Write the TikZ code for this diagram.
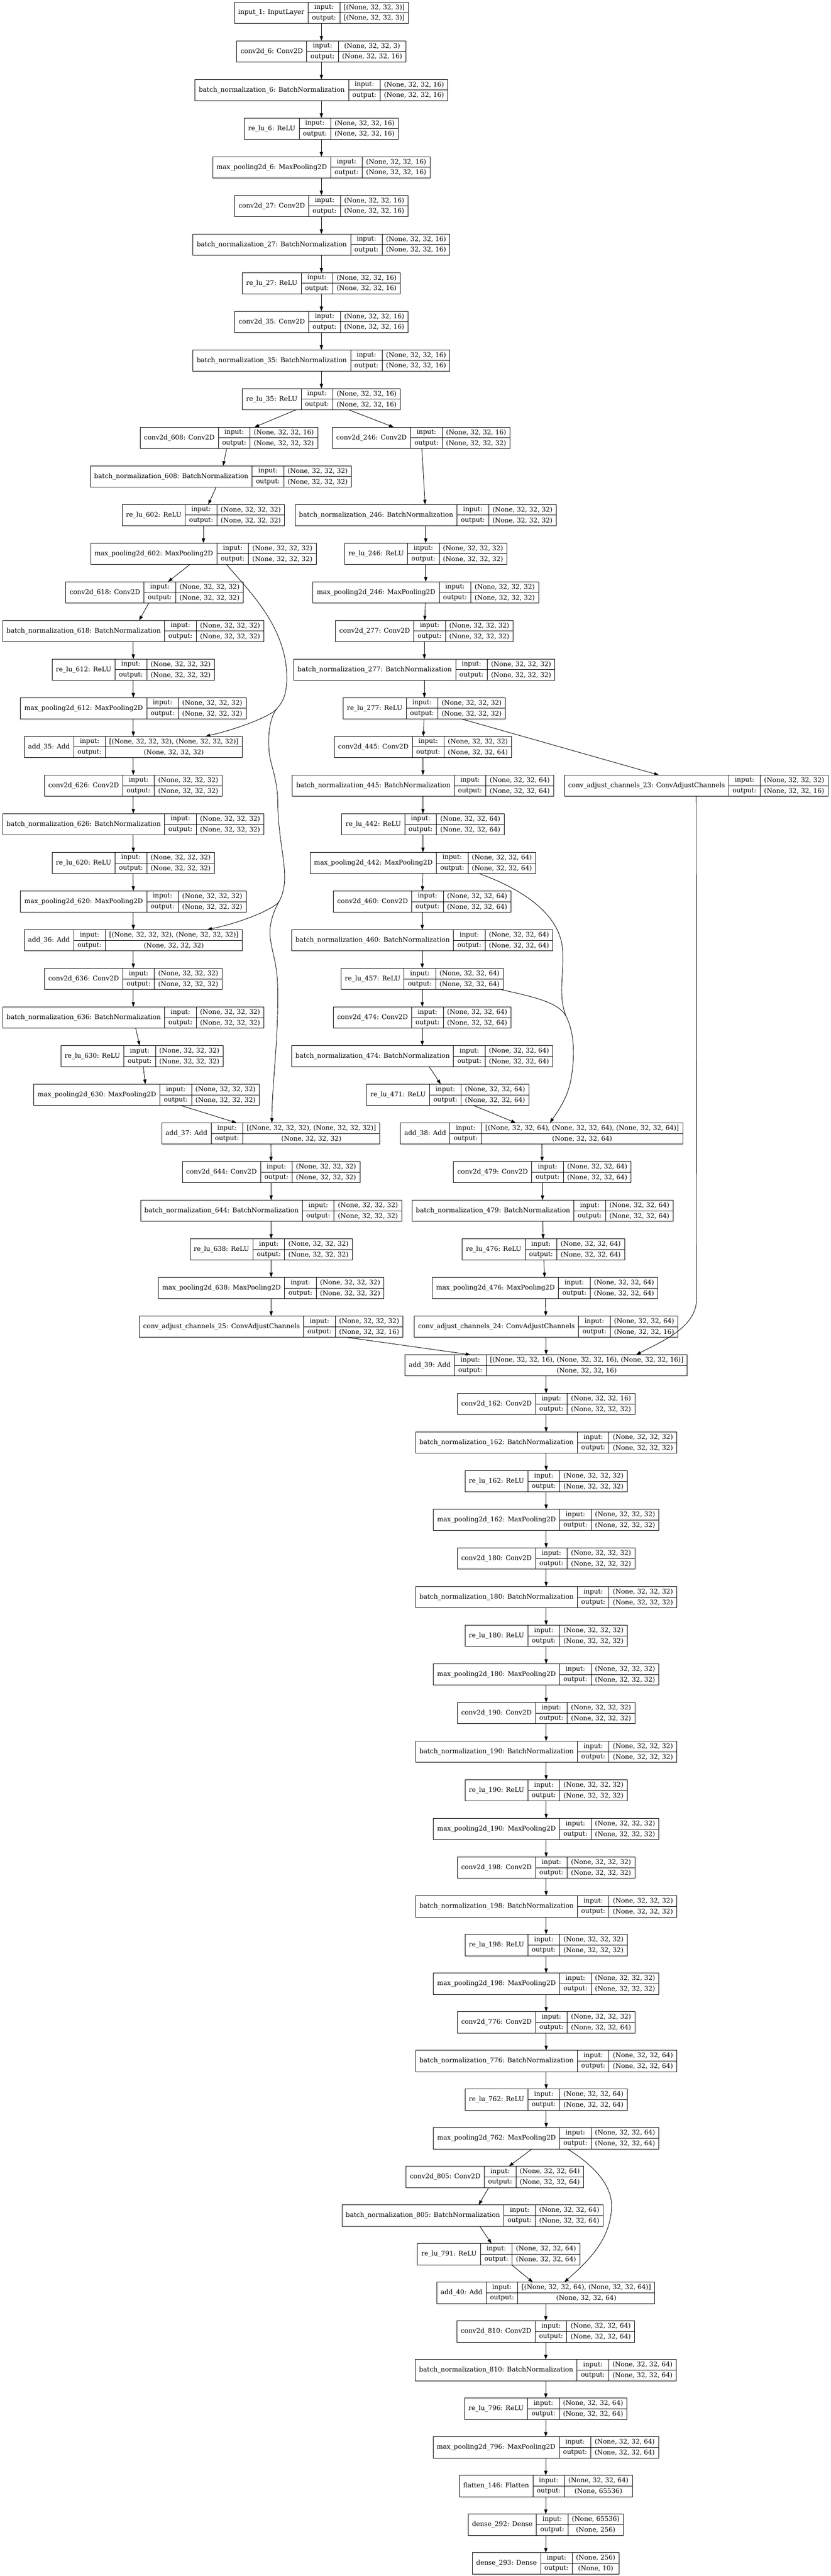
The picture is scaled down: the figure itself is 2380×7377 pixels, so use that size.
\documentclass[tikz,border=0pt]{standalone}
\usepackage{fontspec}
\newfontfamily\djv{DejaVu Serif}
\usetikzlibrary{arrows.meta,calc}
\newcommand\lf{\djv\fontsize{14pt}{17pt}\selectfont}
\newcommand\shp[1]{(None, 32, 32, #1)}
\newlength\lwA \newlength\lwB \newlength\lwC \newlength\lwT
\tikzset{
  lbox/.style={draw,rectangle,line width=1pt,inner sep=0pt,outer sep=0pt,minimum height=45.75pt},
  lsep/.style={line width=1pt},
  ltxt/.style={inner sep=0pt,font=\lf,anchor=center},
  edge/.style={draw,line width=1pt,-{Triangle[length=10pt,width=7pt]}},
  eline/.style={draw,line width=1pt}
}
% pass 1: measure (outside the picture)
\newcommand\laymeasure[6]{%
  \settowidth\lwA{\lf #4}%
  \settowidth\lwC{\lf #5}\settowidth\lwT{\lf #6}%
  \ifdim\lwT>\lwC\relax\setlength\lwC{\lwT}\fi
  \expandafter\xdef\csname lwa@#1\endcsname{\the\lwA}%
  \expandafter\xdef\csname lwc@#1\endcsname{\the\lwC}%
}
% pass 2: draw
\newcommand\laydraw[6]{%
  \setlength\lwA{\csname lwa@#1\endcsname}\addtolength\lwA{16.5pt}%
  \setlength\lwB{\lwbout}\addtolength\lwB{16.5pt}%
  \setlength\lwC{\csname lwc@#1\endcsname}\addtolength\lwC{16.5pt}%
  \setlength\lwT{\lwA}\addtolength\lwT{\lwB}\addtolength\lwT{\lwC}%
  \pgfmathsetmacro\layy{6+110.67*#3+30.5}%
  \node[lbox,minimum width=\lwT] (#1) at (#2,\layy) {};
  \draw[lsep] ([xshift=\lwA]#1.north west) -- ([xshift=\lwA]#1.south west);
  \draw[lsep] ([xshift=-\lwC]#1.north east) -- ([xshift=-\lwC]#1.south east);
  \draw[lsep] ([xshift=\lwA]#1.west) -- (#1.east);
  \node[ltxt] at ([xshift=0.5\lwA]#1.west) {#4};
  \node[ltxt] at ([xshift=\lwA+0.5\lwB,yshift=11.44pt]#1.west) {input:};
  \node[ltxt] at ([xshift=\lwA+0.5\lwB,yshift=-11.44pt]#1.west) {output:};
  \node[ltxt] at ([xshift=-0.5\lwC,yshift=11.44pt]#1.east) {#5};
  \node[ltxt] at ([xshift=-0.5\lwC,yshift=-11.44pt]#1.east) {#6};
}
\newcommand\alllayers{%
% ---- top chain
\lay{inp}{921}{0}{input\_1: InputLayer}{[(None, 32, 32, 3)]}{[(None, 32, 32, 3)]}
\lay{cv6}{921}{1}{conv2d\_6: Conv2D}{\shp{3}}{\shp{16}}
\lay{bn6}{921}{2}{batch\_normalization\_6: BatchNormalization}{\shp{16}}{\shp{16}}
\lay{rl6}{921}{3}{re\_lu\_6: ReLU}{\shp{16}}{\shp{16}}
\lay{mp6}{921}{4}{max\_pooling2d\_6: MaxPooling2D}{\shp{16}}{\shp{16}}
\lay{cv27}{921}{5}{conv2d\_27: Conv2D}{\shp{16}}{\shp{16}}
\lay{bn27}{921}{6}{batch\_normalization\_27: BatchNormalization}{\shp{16}}{\shp{16}}
\lay{rl27}{921}{7}{re\_lu\_27: ReLU}{\shp{16}}{\shp{16}}
\lay{cv35}{921}{8}{conv2d\_35: Conv2D}{\shp{16}}{\shp{16}}
\lay{bn35}{921}{9}{batch\_normalization\_35: BatchNormalization}{\shp{16}}{\shp{16}}
\lay{rl35}{921}{10}{re\_lu\_35: ReLU}{\shp{16}}{\shp{16}}
% ---- left branch
\lay{cv608}{656}{11}{conv2d\_608: Conv2D}{\shp{16}}{\shp{32}}
\lay{bn608}{633}{12}{batch\_normalization\_608: BatchNormalization}{\shp{32}}{\shp{32}}
\lay{rl602}{583}{13}{re\_lu\_602: ReLU}{\shp{32}}{\shp{32}}
\lay{mp602}{583}{14}{max\_pooling2d\_602: MaxPooling2D}{\shp{32}}{\shp{32}}
\lay{cv618}{443}{15}{conv2d\_618: Conv2D}{\shp{32}}{\shp{32}}
\lay{bn618}{382}{16}{batch\_normalization\_618: BatchNormalization}{\shp{32}}{\shp{32}}
\lay{rl612}{382}{17}{re\_lu\_612: ReLU}{\shp{32}}{\shp{32}}
\lay{mp612}{382}{18}{max\_pooling2d\_612: MaxPooling2D}{\shp{32}}{\shp{32}}
\lay{add35}{382}{19}{add\_35: Add}{[(None, 32, 32, 32), (None, 32, 32, 32)]}{\shp{32}}
\lay{cv626}{382}{20}{conv2d\_626: Conv2D}{\shp{32}}{\shp{32}}
\lay{bn626}{382}{21}{batch\_normalization\_626: BatchNormalization}{\shp{32}}{\shp{32}}
\lay{rl620}{382}{22}{re\_lu\_620: ReLU}{\shp{32}}{\shp{32}}
\lay{mp620}{382}{23}{max\_pooling2d\_620: MaxPooling2D}{\shp{32}}{\shp{32}}
\lay{add36}{382}{24}{add\_36: Add}{[(None, 32, 32, 32), (None, 32, 32, 32)]}{\shp{32}}
\lay{cv636}{382}{25}{conv2d\_636: Conv2D}{\shp{32}}{\shp{32}}
\lay{bn636}{382}{26}{batch\_normalization\_636: BatchNormalization}{\shp{32}}{\shp{32}}
\lay{rl630}{407}{27}{re\_lu\_630: ReLU}{\shp{32}}{\shp{32}}
\lay{mp630}{420}{28}{max\_pooling2d\_630: MaxPooling2D}{\shp{32}}{\shp{32}}
\lay{add37}{776}{29}{add\_37: Add}{[(None, 32, 32, 32), (None, 32, 32, 32)]}{\shp{32}}
\lay{cv644}{777}{30}{conv2d\_644: Conv2D}{\shp{32}}{\shp{32}}
\lay{bn644}{777}{31}{batch\_normalization\_644: BatchNormalization}{\shp{32}}{\shp{32}}
\lay{rl638}{777}{32}{re\_lu\_638: ReLU}{\shp{32}}{\shp{32}}
\lay{mp638}{777}{33}{max\_pooling2d\_638: MaxPooling2D}{\shp{32}}{\shp{32}}
\lay{cac25}{777}{34}{conv\_adjust\_channels\_25: ConvAdjustChannels}{\shp{32}}{\shp{16}}
% ---- right branch
\lay{cv246}{1207}{11}{conv2d\_246: Conv2D}{\shp{16}}{\shp{32}}
\lay{bn246}{1220}{13}{batch\_normalization\_246: BatchNormalization}{\shp{32}}{\shp{32}}
\lay{rl246}{1220}{14}{re\_lu\_246: ReLU}{\shp{32}}{\shp{32}}
\lay{mp246}{1220}{15}{max\_pooling2d\_246: MaxPooling2D}{\shp{32}}{\shp{32}}
\lay{cv277}{1216}{16}{conv2d\_277: Conv2D}{\shp{32}}{\shp{32}}
\lay{bn277}{1216}{17}{batch\_normalization\_277: BatchNormalization}{\shp{32}}{\shp{32}}
\lay{rl277}{1216}{18}{re\_lu\_277: ReLU}{\shp{32}}{\shp{32}}
\lay{cv445}{1212}{19}{conv2d\_445: Conv2D}{\shp{32}}{\shp{64}}
\lay{bn445}{1212}{20}{batch\_normalization\_445: BatchNormalization}{\shp{64}}{\shp{64}}
\lay{cac23}{1995}{20}{conv\_adjust\_channels\_23: ConvAdjustChannels}{\shp{32}}{\shp{16}}
\lay{rl442}{1212}{21}{re\_lu\_442: ReLU}{\shp{64}}{\shp{64}}
\lay{mp442}{1212}{22}{max\_pooling2d\_442: MaxPooling2D}{\shp{64}}{\shp{64}}
\lay{cv460}{1210}{23}{conv2d\_460: Conv2D}{\shp{64}}{\shp{64}}
\lay{bn460}{1210}{24}{batch\_normalization\_460: BatchNormalization}{\shp{64}}{\shp{64}}
\lay{rl457}{1210}{25}{re\_lu\_457: ReLU}{\shp{64}}{\shp{64}}
\lay{cv474}{1210}{26}{conv2d\_474: Conv2D}{\shp{64}}{\shp{64}}
\lay{bn474}{1210}{27}{batch\_normalization\_474: BatchNormalization}{\shp{64}}{\shp{64}}
\lay{rl471}{1283}{28}{re\_lu\_471: ReLU}{\shp{64}}{\shp{64}}
\lay{add38}{1552}{29}{add\_38: Add}{[(None, 32, 32, 64), (None, 32, 32, 64), (None, 32, 32, 64)]}{\shp{64}}
\lay{cv479}{1554}{30}{conv2d\_479: Conv2D}{\shp{64}}{\shp{64}}
\lay{bn479}{1555}{31}{batch\_normalization\_479: BatchNormalization}{\shp{64}}{\shp{64}}
\lay{rl476}{1557}{32}{re\_lu\_476: ReLU}{\shp{64}}{\shp{64}}
\lay{mp476}{1562}{33}{max\_pooling2d\_476: MaxPooling2D}{\shp{64}}{\shp{64}}
\lay{cac24}{1565}{34}{conv\_adjust\_channels\_24: ConvAdjustChannels}{\shp{64}}{\shp{16}}
% ---- lower chain
\lay{add39}{1565}{35}{add\_39: Add}{[(None, 32, 32, 16), (None, 32, 32, 16), (None, 32, 32, 16)]}{\shp{16}}
\lay{cv162}{1565}{36}{conv2d\_162: Conv2D}{\shp{16}}{\shp{32}}
\lay{bn162}{1565}{37}{batch\_normalization\_162: BatchNormalization}{\shp{32}}{\shp{32}}
\lay{rl162}{1565}{38}{re\_lu\_162: ReLU}{\shp{32}}{\shp{32}}
\lay{mp162}{1565}{39}{max\_pooling2d\_162: MaxPooling2D}{\shp{32}}{\shp{32}}
\lay{cv180}{1565}{40}{conv2d\_180: Conv2D}{\shp{32}}{\shp{32}}
\lay{bn180}{1565}{41}{batch\_normalization\_180: BatchNormalization}{\shp{32}}{\shp{32}}
\lay{rl180}{1565}{42}{re\_lu\_180: ReLU}{\shp{32}}{\shp{32}}
\lay{mp180}{1565}{43}{max\_pooling2d\_180: MaxPooling2D}{\shp{32}}{\shp{32}}
\lay{cv190}{1565}{44}{conv2d\_190: Conv2D}{\shp{32}}{\shp{32}}
\lay{bn190}{1565}{45}{batch\_normalization\_190: BatchNormalization}{\shp{32}}{\shp{32}}
\lay{rl190}{1565}{46}{re\_lu\_190: ReLU}{\shp{32}}{\shp{32}}
\lay{mp190}{1565}{47}{max\_pooling2d\_190: MaxPooling2D}{\shp{32}}{\shp{32}}
\lay{cv198}{1565}{48}{conv2d\_198: Conv2D}{\shp{32}}{\shp{32}}
\lay{bn198}{1565}{49}{batch\_normalization\_198: BatchNormalization}{\shp{32}}{\shp{32}}
\lay{rl198}{1565}{50}{re\_lu\_198: ReLU}{\shp{32}}{\shp{32}}
\lay{mp198}{1565}{51}{max\_pooling2d\_198: MaxPooling2D}{\shp{32}}{\shp{32}}
\lay{cv776}{1565}{52}{conv2d\_776: Conv2D}{\shp{32}}{\shp{64}}
\lay{bn776}{1565}{53}{batch\_normalization\_776: BatchNormalization}{\shp{64}}{\shp{64}}
\lay{rl762}{1565}{54}{re\_lu\_762: ReLU}{\shp{64}}{\shp{64}}
\lay{mp762}{1565}{55}{max\_pooling2d\_762: MaxPooling2D}{\shp{64}}{\shp{64}}
\lay{cv805}{1418}{56}{conv2d\_805: Conv2D}{\shp{64}}{\shp{64}}
\lay{bn805}{1354}{57}{batch\_normalization\_805: BatchNormalization}{\shp{64}}{\shp{64}}
\lay{rl791}{1429}{58}{re\_lu\_791: ReLU}{\shp{64}}{\shp{64}}
\lay{add40}{1564}{59}{add\_40: Add}{[(None, 32, 32, 64), (None, 32, 32, 64)]}{\shp{64}}
\lay{cv810}{1564}{60}{conv2d\_810: Conv2D}{\shp{64}}{\shp{64}}
\lay{bn810}{1564}{61}{batch\_normalization\_810: BatchNormalization}{\shp{64}}{\shp{64}}
\lay{rl796}{1564}{62}{re\_lu\_796: ReLU}{\shp{64}}{\shp{64}}
\lay{mp796}{1564}{63}{max\_pooling2d\_796: MaxPooling2D}{\shp{64}}{\shp{64}}
\lay{fl146}{1564}{64}{flatten\_146: Flatten}{\shp{64}}{(None, 65536)}
\lay{d292}{1564}{65}{dense\_292: Dense}{(None, 65536)}{(None, 256)}
\lay{d293}{1564}{66}{dense\_293: Dense}{(None, 256)}{(None, 10)}
}
\begin{document}
\let\lay\laymeasure
\alllayers
\settowidth\lwT{\lf output:}\xdef\lwbout{\the\lwT}%
\begin{tikzpicture}[x=0.75pt,y=-0.75pt]
\useasboundingbox (0,0) rectangle (2380,7377);
\let\lay\laydraw
\alllayers
% ---- straight edges
\foreach \p/\q in {inp/cv6,cv6/bn6,bn6/rl6,rl6/mp6,mp6/cv27,cv27/bn27,bn27/rl27,rl27/cv35,cv35/bn35,bn35/rl35,
  rl35/cv608,rl35/cv246,
  cv608/bn608,bn608/rl602,rl602/mp602,mp602/cv618,cv618/bn618,bn618/rl612,rl612/mp612,mp612/add35,
  add35/cv626,cv626/bn626,bn626/rl620,rl620/mp620,mp620/add36,
  add36/cv636,cv636/bn636,bn636/rl630,rl630/mp630,mp630/add37,
  add37/cv644,cv644/bn644,bn644/rl638,rl638/mp638,mp638/cac25,cac25/add39,
  cv246/bn246,bn246/rl246,rl246/mp246,mp246/cv277,cv277/bn277,bn277/rl277,rl277/cv445,rl277/cac23,
  cv445/bn445,bn445/rl442,rl442/mp442,mp442/cv460,cv460/bn460,bn460/rl457,rl457/cv474,cv474/bn474,bn474/rl471,rl471/add38,
  add38/cv479,cv479/bn479,bn479/rl476,rl476/mp476,mp476/cac24,cac24/add39,
  add39/cv162,cv162/bn162,bn162/rl162,rl162/mp162,mp162/cv180,cv180/bn180,bn180/rl180,rl180/mp180,
  mp180/cv190,cv190/bn190,bn190/rl190,rl190/mp190,mp190/cv198,cv198/bn198,bn198/rl198,rl198/mp198,
  mp198/cv776,cv776/bn776,bn776/rl762,rl762/mp762,mp762/cv805,cv805/bn805,bn805/rl791,rl791/add40,
  add40/cv810,cv810/bn810,bn810/rl796,rl796/mp796,mp796/fl146,fl146/d292,d292/d293}
  \draw[edge] (\p) -- (\q);
% ---- curved skip edges (left)
\coordinate (b1) at (793,2030);
\coordinate (b2) at (800,2581);
\draw[eline] ($(mp602.south)+(66,0)$) .. controls (720,1700) and (825,1800) .. (822,1950)
  .. controls (819,1995) and (810,2010) .. (b1);
\draw[edge] (b1) .. controls (776,2050) and (690,2085) .. ($(add35.north)+(207,0)$);
\draw[eline] (b1) .. controls (776,2050) and (765,2100) .. (772,2160)
  .. controls (778,2200) and (795,2230) .. (796,2300)
  .. controls (797,2400) and (820,2470) .. (815,2530)
  .. controls (812,2555) and (806,2570) .. (b2);
\draw[edge] (b2) .. controls (790,2600) and (700,2640) .. ($(add36.north)+(212,0)$);
\draw[edge] (b2) .. controls (790,2600) and (768,2640) .. (775,2690)
  .. controls (782,2740) and (796,2760) .. (796,2850)
  .. controls (796,3000) and (780,3100) .. ($(add37.north)+(3,0)$);
% ---- curved skip edges (right)
\coordinate (b3) at (1622,2910);
\draw[eline] ($(mp442.south)+(161,0)$) .. controls (1480,2540) and (1605,2610) .. (1612,2720)
  .. controls (1617,2790) and (1598,2850) .. (b3);
\draw[eline] ($(rl457.south)+(225,0)$) .. controls (1530,2855) and (1600,2870) .. (b3);
\draw[edge] (b3) .. controls (1640,2945) and (1650,3000) .. (1638,3080)
  .. controls (1630,3140) and (1600,3180) .. ($(add38.north)+(24,0)$);
\coordinate (c23) at (1996,3720);
\draw[edge] (cac23.south) -- (c23) .. controls (1996,3800) and (1900,3840) .. ($(add39.north)+(258,0)$);
\draw[edge] ($(mp762.south)+(61,0)$) .. controls (1700,6200) and (1760,6260) .. (1752,6330)
  .. controls (1745,6420) and (1680,6480) .. ($(add40.north)+(53,0)$);
\end{tikzpicture}
\end{document}
